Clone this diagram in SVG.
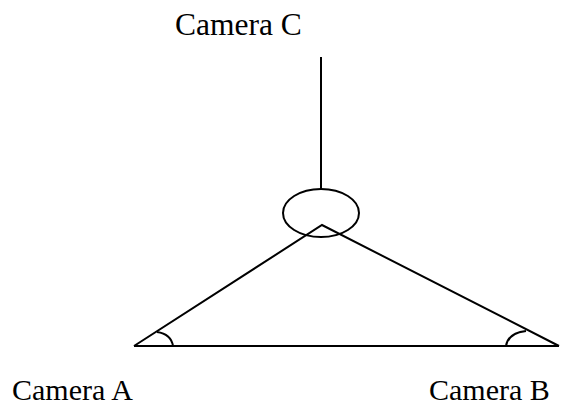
<svg xmlns="http://www.w3.org/2000/svg" width="561" height="406" viewBox="0 0 561 406">
<style>
.ln{fill:none;stroke:#000;stroke-width:2}
.lb{font-family:"Liberation Serif",serif;font-size:30px;fill:#000}
.lc{font-size:31.5px}
</style>
<rect width="561" height="406" fill="#fff"/>
<g id="connectors">
<line class="ln" x1="321" y1="57" x2="321" y2="189"/>
<polyline class="ln" points="134,346 322,225 559,346"/>
<line class="ln" x1="134" y1="346" x2="559" y2="346"/>
<path class="ln" d="M157,332 Q171,334 173,346"/>
<path class="ln" d="M506,346 Q508,333 526,331"/>
</g>
<g id="cameraC">
<ellipse class="ln" cx="321" cy="213" rx="38" ry="24"/>
<text class="lb lc" x="175" y="35">Camera C</text>
</g>
<g id="cameraA"><text class="lb" x="12" y="400">Camera A</text></g>
<g id="cameraB"><text class="lb" x="429" y="400">Camera B</text></g>
</svg>
